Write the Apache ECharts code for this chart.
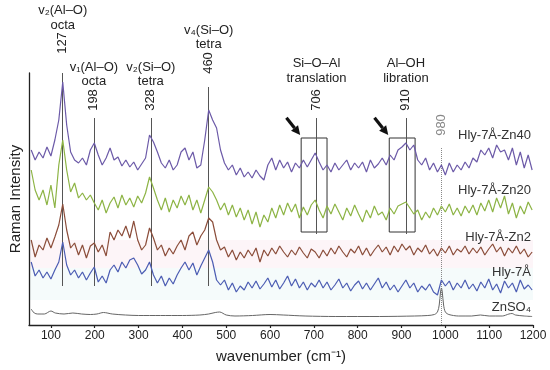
<!DOCTYPE html>
<html><head><meta charset="utf-8">
<script src="https://cdn.jsdelivr.net/npm/echarts@6/dist/echarts.min.js"></script>
<style>html,body{margin:0;padding:0;background:#fff}#c{width:550px;height:370px}</style>
</head><body><div id="c"></div>
<script>
// ---- data ----
const wavenumbers = [55,64,73,82,91,100,109,118,127,136,145,154,163,172,181,190,199,208,217,226,235,244,253,262,271,280,289,298,307,316,325,334,343,352,361,370,379,388,397,406,415,424,433,442,451,460,469,478,487,496,505,514,523,532,541,550,559,568,577,586,595,604,613,622,631,640,649,658,667,676,685,694,703,712,721,730,739,748,757,766,775,784,793,802,811,820,829,838,847,856,865,874,883,892,901,910,919,928,937,946,955,964,973,982,991,1000,1009,1018,1027,1036,1045,1054,1063,1072,1081,1090,1099,1108,1117,1126,1135,1144,1153,1162,1171,1180,1189,1198];
const zn40 = [175,165,173,167,178,169,185,205,243,200,
173,165,162,167,160,175,182,170,160,167,
177,165,168,159,165,158,163,155,161,167,
190,183,173,162,157,165,155,160,173,177,
165,173,157,160,185,215,205,197,175,162,
155,160,150,157,148,153,147,155,149,145,
160,167,155,165,157,163,153,162,157,165,
158,165,172,163,155,160,153,162,155,160,
165,155,162,157,163,153,165,157,161,167,
160,170,165,175,178,182,175,180,165,160,
167,155,162,153,160,150,162,153,160,155,
163,157,167,163,175,170,177,167,180,173,
175,165,177,160,173,157,170,155];
const zn20 = [155,135,125,135,120,140,117,160,185,155,
133,142,127,132,125,130,122,115,125,112,
122,128,117,130,120,127,118,129,122,132,
148,137,125,115,127,113,125,117,129,120,
130,115,125,112,125,138,133,125,115,122,
110,120,108,117,105,115,101,113,98,110,
103,117,107,120,110,122,113,121,107,118,
110,120,125,115,107,119,111,121,113,105,
117,109,120,111,103,115,107,119,110,113,
105,117,111,119,121,123,117,111,115,105,
113,107,117,110,119,113,121,110,117,109,
119,112,120,110,122,114,125,113,127,117,
129,111,122,107,119,111,123,115];
const zn2 = [85,68,80,75,87,77,88,100,121,95,
77,82,70,80,67,79,82,73,80,69,
93,85,95,89,99,87,104,85,75,80,
97,87,75,80,69,77,71,79,85,75,
89,93,80,89,95,107,103,85,75,78,
68,75,65,73,67,75,69,77,63,75,
69,77,71,79,73,68,75,70,78,72,
67,76,73,67,75,69,77,71,79,73,
68,76,72,79,70,77,69,75,80,73,
78,70,79,73,81,75,79,70,77,73,
80,71,76,69,77,72,79,70,76,73,
79,71,77,72,78,70,76,81,73,78,
69,77,72,79,71,76,68,73];
const hly7 = [63,49,55,47,53,46,55,63,83,60,
50,55,47,53,45,52,58,43,49,42,
55,60,53,63,57,65,67,60,51,55,
63,50,42,49,39,47,41,50,57,63,
55,62,50,59,67,75,63,45,40,45,
35,42,33,39,35,43,37,44,36,41,
47,38,45,36,42,49,39,46,37,43,
35,42,38,45,37,43,35,40,46,37,
42,34,40,44,36,42,35,41,47,37,
43,35,40,33,39,45,37,42,33,39,
35,41,33,30,45,39,44,35,42,37,
45,36,41,34,43,37,46,35,41,32,
44,37,42,33,45,36,40,35];
const znso4Wn = [55,62,70,85,100,110,130,150,170,190,205,220,240,270,300,350,400,440,460,475,485,500,520,560,600,630,680,750,850,930,960,975,982,986,989,991,993,996,1000,1008,1030,1060,1080,1100,1130,1145,1152,1160,1180,1198];
const znso4 = [16,12,11,11,14,12,11,12,11,10.5,11,12.5,11,10,9.5,9.5,9.5,10,11,12.5,13,10,9,9.5,10.5,10,9,8.5,8.5,9,9.5,10.5,13,20,33,37,33,20,13,10.5,9,9,10,9,9,11,11.5,10,9,8.5];
const seriesNames = ['Hly-7Å-Zn40','Hly-7Å-Zn20','Hly-7Å-Zn2','Hly-7Å','ZnSO₄'];
const xTickValues = [100,200,300,400,500,600,700,800,900,1000,1100,1200];
// band assignments: wavenumber, label lines, number
const bandPos = [127,198,328,460,706,910];
const bandText = [['v₂(Al–O)','octa'],['v₁(Al–O)','octa'],['v₂(Si–O)','tetra'],['v₄(Si–O)','tetra'],['Si–O–Al','translation'],['Al–OH','libration']];
const bandNumbers = ['127','198','328','460','706','910'];
const boxRanges = [[671,730],[872,931]];
const dottedPos = 990;
const dottedLabel = '980';

// ---- styling / layout ----
const FONT = '"Liberation Sans", Arial, Helvetica, sans-serif';
const colors = ['#6c5aa8','#8db445','#8b4d3a','#4c5db3','#666666'];
const lineTops = [252,207,207,238,207,207];   // y (intensity units) of line tops
const lineBottoms = [39,39,39,39,91,91];
const textY = [[10,25,43],[67,81,100],[67,81,100],[30,44,63],[63,78,100],[63,78,100]];
const labelY = [135,190,237,272,307];

function pairs(xs, ys){ return xs.map((x,i)=>[x, ys[i]]); }

const markLines = bandPos.map((w,i)=>[{coord:[w,lineBottoms[i]]},{coord:[w,lineTops[i]]}]);
markLines.push([{coord:[dottedPos,0],lineStyle:{type:'dotted',color:'#888'}},{coord:[dottedPos,178]}]);

const seriesData = [zn40, zn20, zn2, hly7];
const series = seriesData.map((d,i)=>({
  type:'line', name:seriesNames[i], data:pairs(wavenumbers,d), showSymbol:false, symbol:'none',
  lineStyle:{color:colors[i], width:1.2}, z:3, silent:true
}));
series.push({type:'line', name:seriesNames[4], data:pairs(znso4Wn, znso4), showSymbol:false, symbol:'none',
  smooth:0.3, lineStyle:{color:colors[4], width:1}, z:3, silent:true});
// background bands + boxes + reference lines attached to first series
series[0].markLine = {silent:true, symbol:'none', animation:false, label:{show:false},
  lineStyle:{color:'#555', width:1, type:'solid'}, data:markLines, z:2};
series[0].markArea = {silent:true, animation:false,
  itemStyle:{color:'rgba(0,0,0,0)', borderColor:'#333', borderWidth:1},
  data: boxRanges.map(r=>[{coord:[r[0],187]},{coord:[r[1],93]}])};
series[2].markArea = {silent:true, animation:false, itemStyle:{color:'#fdf5f8'}, z:0,
  data:[[{yAxis:57},{yAxis:85}]]};
series[3].markArea = {silent:true, animation:false, itemStyle:{color:'#f5fbfb'}, z:0,
  data:[[{yAxis:25},{yAxis:57}]]};

const option = {
  animation:false,
  backgroundColor:'#fff',
  grid:{left:25, right:17, top:73, bottom:45},
  xAxis:{type:'value', min:50, max:1200,
    name:'wavenumber (cm⁻¹)', nameLocation:'middle', nameGap:24,
    nameTextStyle:{fontFamily:FONT, fontSize:15, color:'#222'},
    axisLine:{lineStyle:{color:'#222', width:1.3}},
    axisTick:{customValues:xTickValues, length:3, lineStyle:{color:'#222', width:1.2}},
    axisLabel:{customValues:xTickValues, formatter:v=>String(v), fontFamily:FONT, fontSize:12, color:'#222', margin:5},
    splitLine:{show:false}},
  yAxis:{type:'value', min:0, max:252,
    name:'Raman Intensity', nameLocation:'middle', nameGap:6,
    nameTextStyle:{fontFamily:FONT, fontSize:15, color:'#222'},
    axisLine:{show:true, lineStyle:{color:'#222', width:1.3}},
    axisTick:{show:false}, axisLabel:{show:false}, splitLine:{show:false}},
  series:series
};

const chart = echarts.init(document.getElementById('c'));
chart.setOption(option);

const px = v => chart.convertToPixel({xAxisIndex:0}, v);
const txt = (x,y,text,extra) => Object.assign({type:'text', x:x, y:y, silent:true, z:10,
  style:{text:text, font:'13px '+FONT, fontSize:13, fontFamily:FONT, fill:'#222',
    align:'center', textAlign:'center', verticalAlign:'middle', textVerticalAlign:'middle'}}, extra||{});
const graphics = [];
bandPos.forEach((w,i)=>{
  const x = px(w);
  graphics.push(txt(x, textY[i][0], bandText[i][0]));
  graphics.push(txt(x, textY[i][1], bandText[i][1]));
  graphics.push(txt(x, textY[i][2], bandNumbers[i], {rotation:Math.PI/2}));
});
const gx = px(dottedPos);
const g980 = txt(gx, 125, dottedLabel, {rotation:Math.PI/2});
g980.style.fill = '#888';
graphics.push(g980);
// series labels on right
const rightX = px(1200) - 2;
seriesNames.forEach((n,i)=>{
  const t = txt(rightX, labelY[i], n);
  t.style.align = 'right'; t.style.textAlign = 'right';
  t.style.fill = '#333';
  graphics.push(t);
});
// arrows pointing at box corners
boxRanges.forEach(r=>{
  const c = chart.convertToPixel({gridIndex:0}, [r[0],187]);
  const tip = [c[0]-1, c[1]-3];
  const dx = 0.625, dy = 0.781;
  const base = [tip[0]-9*dx, tip[1]-9*dy];
  const tail = [tip[0]-22*dx, tip[1]-22*dy];
  graphics.push({type:'line', silent:true, z:10, shape:{x1:tail[0], y1:tail[1], x2:base[0], y2:base[1]},
    style:{stroke:'#111', lineWidth:3.2}});
  graphics.push({type:'polygon', silent:true, z:10,
    shape:{points:[tip,[base[0]-dy*4.5, base[1]+dx*4.5],[base[0]+dy*4.5, base[1]-dx*4.5]]},
    style:{fill:'#111'}});
});
chart.setOption({graphic:graphics});
</script>
</body></html>
